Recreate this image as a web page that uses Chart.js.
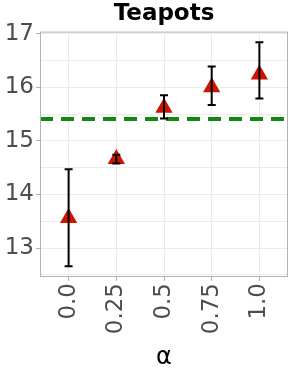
<!DOCTYPE html>
<html><head><meta charset="utf-8">
<script src="https://cdn.jsdelivr.net/npm/chart.js@4/dist/chart.umd.min.js"></script>
<style>html,body{margin:0;padding:0;background:#fff}#wrap{width:291px;height:376px}</style>
</head><body><div id="wrap"><canvas id="c" width="291" height="376"></canvas></div>
<script>
const alphas = [0.0, 0.25, 0.5, 0.75, 1.0];
const tickLabels = ['0.0', '0.25', '0.5', '0.75', '1.0'];
const means = [13.56, 14.66, 15.62, 16.0, 16.24];
const lowers = [12.66, 14.58, 15.42, 15.67, 15.79];
const uppers = [14.47, 14.74, 15.85, 16.39, 16.84];
const baseline = 15.41;
const title = 'Teapots';
const xTitle = 'α';

const FONT = "'DejaVu Sans', sans-serif";

const errorBars = {
  id: 'errorBars',
  afterDatasetsDraw(chart) {
    const ctx = chart.ctx, x = chart.scales.x, y = chart.scales.y;
    ctx.save();
    ctx.strokeStyle = '#000';
    ctx.lineWidth = 2;
    alphas.forEach((a, i) => {
      const px = x.getPixelForValue(a);
      const t = y.getPixelForValue(uppers[i]), b = y.getPixelForValue(lowers[i]);
      ctx.beginPath();
      ctx.moveTo(px, t); ctx.lineTo(px, b);
      ctx.moveTo(px - 4, t); ctx.lineTo(px + 4, t);
      ctx.moveTo(px - 4, b); ctx.lineTo(px + 4, b);
      ctx.stroke();
    });
    ctx.restore();
  }
};
const frame = {
  id: 'frame',
  afterDraw(chart) {
    const a = chart.chartArea, ctx = chart.ctx;
    ctx.save();
    ctx.strokeStyle = '#b3b3b3';
    ctx.lineWidth = 1;
    ctx.strokeRect(a.left + 0.5, a.top + 0.5, a.right - a.left - 1, a.bottom - a.top - 1);
    ctx.restore();
  }
};

new Chart(document.getElementById('c'), {
  type: 'scatter',
  data: {
    datasets: [
      {
        type: 'line',
        data: [{x: -0.15, y: baseline}, {x: 1.15, y: baseline}],
        borderColor: '#118811',
        borderWidth: 4,
        borderDash: [13, 8],
        pointRadius: 0,
        order: 2
      },
      {
        data: alphas.map((a, i) => ({x: a, y: means[i]})),
        pointStyle: 'triangle',
        pointRadius: 10,
        backgroundColor: '#cc1500',
        borderColor: '#cc1500',
        borderWidth: 0,
        order: 1
      }
    ]
  },
  options: {
    responsive: false,
    animation: false,
    events: [],
    layout: {autoPadding: false, padding: {left: 0, right: 3, top: 0, bottom: 0}},
    plugins: {
      legend: {display: false},
      tooltip: {enabled: false},
      title: {
        display: true, text: title, fullSize: false,
        color: '#000',
        font: {family: FONT, size: 23, weight: 'bold', lineHeight: 1.2},
        padding: {top: 0, bottom: 4}
      }
    },
    scales: {
      x: {
        type: 'linear', min: -0.15, max: 1.15,
        afterBuildTicks(s) { s.ticks = alphas.map(v => ({value: v})); },
        afterFit(s) { s.height = 99; s.paddingLeft = 0; s.paddingRight = 0; },
        ticks: {
          callback: (v, i) => tickLabels[i],
          autoSkip: false,
          minRotation: 90, maxRotation: 90,
          color: '#4d4d4d', font: {family: FONT, size: 23}, padding: 2
        },
        grid: {color: '#ebebeb', lineWidth: 1, tickLength: 4, tickColor: '#b3b3b3'},
        border: {display: false},
        title: {display: true, text: xTitle, color: '#000', font: {family: FONT, size: 24}, padding: {top: 0, bottom: 4}}
      },
      y: {
        min: 12.46, max: 17.04,
        afterBuildTicks(s) {
          const t = [];
          for (let v = 12.5; v <= 17.0001; v += 0.5) t.push({value: v});
          s.ticks = t;
        },
        afterFit(s) { s.width = 40; s.paddingTop = 0; s.paddingBottom = 0; },
        ticks: {
          callback: (v) => Number.isInteger(v) ? String(v) : '',
          autoSkip: false,
          color: '#4d4d4d', font: {family: FONT, size: 23}, padding: 2
        },
        grid: {
          color: '#ebebeb', lineWidth: 1, tickLength: 4,
          tickColor: (c) => Number.isInteger(c.tick && c.tick.value) ? '#b3b3b3' : 'rgba(0,0,0,0)'
        },
        border: {display: false}
      }
    }
  },
  plugins: [errorBars, frame]
});
</script>
</body></html>
